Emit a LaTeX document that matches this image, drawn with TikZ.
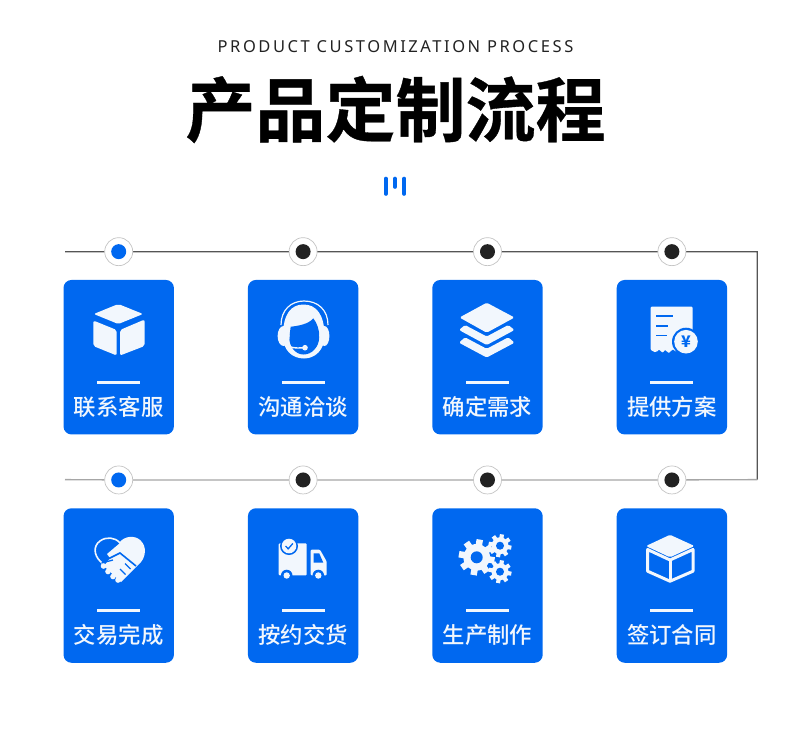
\documentclass[tikz,border=0pt]{standalone}
\usepackage{fontspec}
\usepackage{xcolor}
\usepackage{tikz}
\usetikzlibrary{positioning,backgrounds}
\newfontfamily\cjk{Noto Sans CJK SC}
\newfontfamily\cjklabel{Noto Sans CJK SC Medium}
\newfontfamily\cjktitle[FakeBold=0.5]{Noto Sans CJK SC Bold}
\newfontfamily\latinsub[LetterSpace=15.5]{Noto Sans}
\definecolor{cardblue}{HTML}{0068F0}
\definecolor{iconwhite}{HTML}{F2F7FD}
\definecolor{darkline}{HTML}{555555}
\definecolor{lightline}{HTML}{A6A6A6}
\definecolor{ringgray}{HTML}{C4C4C4}
\definecolor{coreblack}{HTML}{222222}
\newcommand{\gearicon}[4]{%
  \fill[icon] (#1,#2) circle (#3*0.74);
  \foreach \a in {0,45,...,315} {\draw[icon,draw=iconwhite,line width=#3*0.36] (#1,#2)++(\a+10:#3*0.6) -- ++(\a+10:#3*0.4);}
  \fill[cardblue] (#1,#2) circle (#4);
}
\begin{document}
\begin{tikzpicture}[
  x=1pt,y=-1pt,
  node distance=14.3pt and 74pt,
  every node/.style={outer sep=0pt},
  card/.style={fill=cardblue,rounded corners=8pt,minimum width=110.4pt,minimum height=154.5pt,inner sep=0pt},
  cardtext/.style={font=\fontsize{22.4}{24}\cjklabel,text=iconwhite,inner sep=0pt},
  cardbar/.style={fill=iconwhite,minimum width=43pt,minimum height=2.6pt,inner sep=0pt},
  ring/.style={circle,draw=ringgray,line width=0.7pt,fill=white,minimum size=28pt,inner sep=0pt},
  coreblue/.style={circle,fill=cardblue,minimum size=15pt,inner sep=0pt},
  coredark/.style={circle,fill=coreblack,minimum size=15pt,inner sep=0pt},
  icon/.style={fill=iconwhite},
  iconline/.style={draw=iconwhite,line width=1.6pt},
  cutline/.style={draw=cardblue,line width=1.3pt},
  titlebar/.style={draw=cardblue,line width=3.6pt,line cap=round}
]
\useasboundingbox (0,0) rectangle (790,740);
\node[font=\fontsize{16.5}{18}\latinsub,text=coreblack] (subtitle) at (395.5,46.5) {PRODUCT CUSTOMIZATION PROCESS};
\node[font=\fontsize{70}{74}\cjktitle,text=black,inner sep=0pt] (title) at (395.5,109.5) {产品定制流程};
\draw[titlebar] (385.8,178.5) -- (385.8,194);
\draw[titlebar] (395,178.5) -- (395,187);
\draw[titlebar] (404.2,178.5) -- (404.2,194);

\node[card] (contact) at (118.7,357.2) {};
\node[card,right=of contact] (talk) {};
\node[card,right=of talk] (demand) {};
\node[card,right=of demand] (plan) {};
\node[card] (done) at (118.7,585.5) {};
\node[card,right=of done] (deliver) {};
\node[card,right=of deliver] (produce) {};
\node[card,right=of produce] (contract) {};

\node[ring,above=of contact] (contactring) {};
\node[ring,above=of talk] (talkring) {};
\node[ring,above=of demand] (demandring) {};
\node[ring,above=of plan] (planring) {};
\node[ring,above=of done] (donering) {};
\node[ring,above=of deliver] (deliverring) {};
\node[ring,above=of produce] (producering) {};
\node[ring,above=of contract] (contractring) {};
\node[coreblue] (contactcore) at (contactring) {};
\node[coredark] (talkcore) at (talkring) {};
\node[coredark] (demandcore) at (demandring) {};
\node[coredark] (plancore) at (planring) {};
\node[coreblue] (donecore) at (donering) {};
\node[coredark] (delivercore) at (deliverring) {};
\node[coredark] (producecore) at (producering) {};
\node[coredark] (contractcore) at (contractring) {};

\node[cardbar] (contactbar) at ([yshift=51.8pt]contact.south) {};
\node[cardbar] (talkbar) at ([yshift=51.8pt]talk.south) {};
\node[cardbar] (demandbar) at ([yshift=51.8pt]demand.south) {};
\node[cardbar] (planbar) at ([yshift=51.8pt]plan.south) {};
\node[cardbar] (donebar) at ([yshift=52.4pt]done.south) {};
\node[cardbar] (deliverbar) at ([yshift=52.4pt]deliver.south) {};
\node[cardbar] (producebar) at ([yshift=52.4pt]produce.south) {};
\node[cardbar] (contractbar) at ([yshift=52.4pt]contract.south) {};
\node[cardtext] (contacttext) at ([yshift=27.6pt]contact.south) {联系客服};
\node[cardtext] (talktext) at ([yshift=27.6pt]talk.south) {沟通洽谈};
\node[cardtext] (demandtext) at ([yshift=27.6pt]demand.south) {确定需求};
\node[cardtext] (plantext) at ([yshift=27.6pt]plan.south) {提供方案};
\node[cardtext] (donetext) at ([yshift=27.6pt]done.south) {交易完成};
\node[cardtext] (delivertext) at ([yshift=27.6pt]deliver.south) {按约交货};
\node[cardtext] (producetext) at ([yshift=27.6pt]produce.south) {生产制作};
\node[cardtext] (contracttext) at ([yshift=27.6pt]contract.south) {签订合同};

\coordinate (topstart) at (65,251.7);
\coordinate (topcorner) at (757.3,251.7);
\coordinate (lowcorner) at (757.3,479.6);
\coordinate (lowend) at (65,479.6);
\begin{scope}[on background layer]
  \draw[draw=darkline,line width=1.2pt] (topstart) -- (contactring) -- (talkring) -- (demandring) -- (planring) -- (topcorner) -- (lowcorner);
  \draw[draw=lightline,line width=1.3pt] (lowcorner) -- (contractring) -- (producering) -- (deliverring) -- (donering) -- (lowend);
\end{scope}

% box
\fill[icon,rounded corners=2pt] (118.3,304) -- (143,314) -- (118.3,324) -- (93.8,314) -- cycle;
\fill[icon,rounded corners=2pt] (93.3,320.5) -- (116.7,330) -- (116.7,355.5) -- (93.3,346) -- cycle;
\fill[icon,rounded corners=2pt] (120,330) -- (144.6,319.5) -- (144.6,346) -- (120,355.5) -- cycle;
% headset
\fill[icon] (283,336) .. controls (283,314) and (291,304.5) .. (303.5,304.5) .. controls (316,304.5) and (324.5,314) .. (324.5,336) .. controls (324.5,350) and (315,358.5) .. (304,358.5) .. controls (292,358.5) and (283,350) .. (283,336) -- cycle;
\fill[cardblue] (290.7,326.7) .. controls (298,326) and (309,324) .. (313.3,318.3) .. controls (317,323) and (319.5,330) .. (319.3,337) .. controls (319,347) and (312,354.5) .. (303.5,354.5) .. controls (295,354.5) and (289,346) .. (289.3,337) -- cycle;
\fill[icon] (283.6,336) ellipse (6 and 10);
\fill[icon] (324.4,336) ellipse (5 and 10);
\draw[iconline,line width=1.2pt] (281,325) .. controls (281,310) and (291,301) .. (304,301) .. controls (318,301) and (328,310) .. (328,325);
\draw[iconline,line width=1.4pt] (289.3,346.5) .. controls (294,348.5) and (300,348) .. (305,347.7);
\fill[icon] (305,347.7) circle (2.8);
% layers
\fill[icon,rounded corners=1.5pt] (486.7,302.7) -- (514.5,317.5) -- (486.7,332.7) -- (459.5,317.5) -- cycle;
\fill[icon,rounded corners=1.5pt] (465,325) -- (486.7,336.5) -- (508.3,325) -- (514.5,330) -- (486.7,345) -- (459,330) -- cycle;
\fill[icon,rounded corners=1.5pt] (465,337.3) -- (486.7,348.8) -- (508.3,337.3) -- (514.5,342.7) -- (486.7,357.5) -- (459,342.7) -- cycle;
% receipt
\fill[icon,rounded corners=1pt] (650.7,306.7) -- (692.7,306.7) -- (692.7,340) -- (676,352) .. controls (674,349) and (672,349) .. (670,352) .. controls (668,354) and (666,349) .. (664,351) .. controls (662,354) and (660,349) .. (658,350.5) .. controls (656,353) and (654,352) .. (650.7,350) -- cycle;
\draw[cutline] (656,316) -- (673.3,316);
\draw[cutline] (656,326) -- (668,326);
\draw[cutline] (656,335.3) -- (666.7,335.3);
\fill[cardblue] (686,341.7) circle (14);
\fill[icon] (686,341.7) circle (11.8);
\node[font=\fontsize{16}{17}\cjk\bfseries,text=cardblue,inner sep=0pt] (coin) at (686,341.7) {¥};
% handshake
\draw[iconline] (121,581) -- (100,561) .. controls (94,555) and (93,546) .. (100,541) .. controls (106,536.5) and (115,537) .. (120,543) .. controls (125,536.5) and (135,536) .. (140,541) .. controls (146,547) and (145,556) .. (140,562) -- cycle;
\fill[icon] (107,554) -- (120,543) .. controls (125,536.5) and (135,536) .. (140,541) .. controls (146,547) and (145,556) .. (140,562) -- (121,581) -- (104,566) -- (110,558) -- cycle;
\foreach \p in {(103.5,566),(108,571.5),(113,576.5),(118,580)} {\fill[icon] \p circle (2.8);}
\draw[cutline,line width=1.6pt] (108,559) -- (120,553) -- (136,566);
\draw[cutline] (120,569) -- (125.5,574.5);
\draw[cutline] (125,563.5) -- (130.5,569);
\draw[cutline] (113,560) -- (101.5,563);
% truck
\fill[icon,rounded corners=1pt] (278.7,543.3) -- (306.7,543.3) -- (306.7,575.3) -- (278.7,575.3) -- cycle;
\fill[cardblue] (289,546) circle (9);
\fill[icon] (289,546) circle (7.3);
\draw[cutline] (285.5,546) -- (288.2,548.8) -- (292.8,543.5);
\fill[icon,rounded corners=1pt] (310.7,549.7) -- (320,549.7) -- (326.7,561.5) -- (326.7,575.3) -- (310.7,575.3) -- cycle;
\fill[cardblue] (313.5,553.3) -- (319.2,553.3) -- (323.3,562.7) -- (313.5,562.7) -- cycle;
\fill[cardblue] (286.7,575.5) circle (5.8);
\fill[icon] (286.7,575.5) circle (3.2);
\fill[cardblue] (318.3,575.5) circle (5.8);
\fill[icon] (318.3,575.5) circle (3.2);
% gears
\gearicon{476.7}{557.3}{18}{6}
\gearicon{500}{545.7}{11.5}{4}
\gearicon{500}{571.7}{11.5}{4}
% open box
\fill[icon,rounded corners=1.5pt] (670,534.8) -- (694.5,546) -- (670,557.3) -- (646,546) -- cycle;
\draw[iconline,line width=3pt,line join=round] (647.6,549.5) -- (647.6,571.2) -- (670,581.2) -- (693,571.2) -- (693,549.5) -- (670,560) -- cycle;
\draw[iconline,line width=3pt] (670,560) -- (670,581.2);
\end{tikzpicture}
\end{document}
